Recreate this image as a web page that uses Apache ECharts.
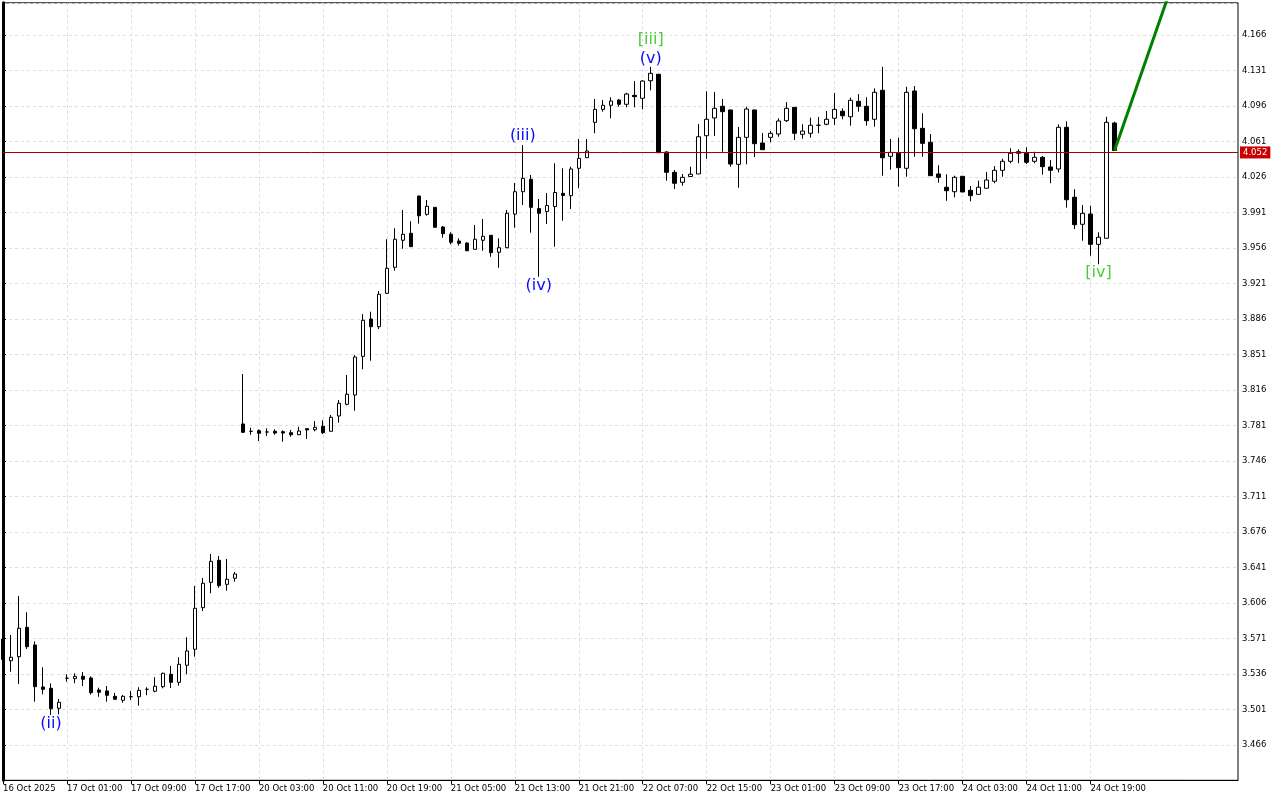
<!DOCTYPE html>
<html>
<head>
<meta charset="utf-8">
<style>html,body{margin:0;padding:0;background:#fff}#c{width:1280px;height:800px}</style>
<script src="https://cdn.jsdelivr.net/npm/echarts@6/dist/echarts.min.js"></script>
</head>
<body>
<div id="c"></div>
<script>
// Hourly candles, index 0 = 16 Oct 2025 17:00
const tickLabels = ['16 Oct 2025','17 Oct 01:00','17 Oct 09:00','17 Oct 17:00','20 Oct 03:00','20 Oct 11:00','20 Oct 19:00','21 Oct 05:00','21 Oct 13:00','21 Oct 21:00','22 Oct 07:00','22 Oct 15:00','23 Oct 01:00','23 Oct 09:00','23 Oct 17:00','24 Oct 03:00','24 Oct 11:00','24 Oct 19:00'];
const opens = [3.5703,3.5489,3.5529,3.5818,3.5644,3.5230,3.5217,3.5020,3.5316,3.5312,3.5335,3.5319,3.5200,3.5191,3.5138,3.5099,3.5134,3.5134,3.5207,3.5188,3.5233,3.5355,3.5276,3.5444,3.5602,3.6012,3.6262,3.6479,3.6242,3.6302,
3.7823,3.7751,3.7757,3.7744,3.7751,3.7747,3.7737,3.7717,3.7777,3.7767,3.7800,3.7751,3.7902,3.8017,3.8109,3.8490,3.8858,3.8782,3.9111,3.9368,3.9634,3.9703,4.0071,3.9890,3.9959,3.9765,3.9693,3.9627,3.9607,3.9545,
3.9634,3.9683,3.9516,3.9561,3.9893,4.0113,4.0235,3.9947,3.9918,3.9967,4.0097,4.0074,4.0344,4.0448,4.0797,4.0925,4.0965,4.1017,4.0975,4.1063,4.1034,4.1207,4.1271,4.0504,4.0304,4.0206,4.0263,4.0288,4.0665,4.0840,
4.0955,4.0919,4.0383,4.0649,4.0919,4.0593,4.0649,4.0682,4.0813,4.0945,4.0679,4.0689,4.0768,4.0778,4.0837,4.0906,4.0852,4.1004,4.0955,4.0827,4.1113,4.0462,4.0492,4.0344,4.1106,4.0738,4.0600,4.0288,4.0157,4.0113,
4.0265,4.0127,4.0087,4.0147,4.0216,4.0324,4.0413,4.0507,4.0492,4.0413,4.0452,4.0357,4.0337,4.0748,4.0058,3.9792,3.9893,3.9594,3.9654,4.0790];
const highs = [3.5812,3.5743,3.6127,3.5966,3.5679,3.5424,3.5266,3.5112,3.5355,3.5365,3.5378,3.5335,3.5223,3.5240,3.5171,3.5151,3.5191,3.5227,3.5227,3.5326,3.5371,3.5437,3.5523,3.5720,3.6226,3.6305,3.6541,3.6521,3.6492,3.6364,
3.8316,3.7786,3.7770,3.7780,3.7771,3.7761,3.7764,3.7796,3.7780,3.7852,3.7859,3.7911,3.8059,3.8306,3.8503,3.8907,3.8930,3.9134,3.9644,3.9752,3.9933,3.9821,4.0071,4.0031,3.9959,3.9775,3.9713,3.9654,3.9614,3.9785,
3.9844,3.9683,3.9654,3.9933,4.0199,4.0573,4.0278,4.0041,4.0100,4.0393,4.0344,4.0360,4.0633,4.0633,4.1027,4.1017,4.1044,4.1027,4.1089,4.1204,4.1214,4.1345,4.1274,4.0514,4.0327,4.0288,4.0360,4.0781,4.1103,4.1096,
4.1027,4.0919,4.0751,4.0951,4.0919,4.0692,4.0711,4.0837,4.0997,4.0945,4.0778,4.0843,4.0850,4.0909,4.1086,4.0935,4.1040,4.1076,4.1044,4.1132,4.1345,4.0633,4.0645,4.1148,4.1155,4.0886,4.0682,4.0373,4.0285,4.0271,
4.0265,4.0169,4.0222,4.0307,4.0366,4.0438,4.0541,4.0531,4.0551,4.0507,4.0465,4.0426,4.0778,4.0807,4.0137,3.9982,3.9975,3.9713,4.0852,4.0803];
const lows = [3.5259,3.5381,3.5259,3.5605,3.5085,3.5158,3.4954,3.4961,3.5282,3.5266,3.5240,3.5154,3.5134,3.5085,3.5102,3.5075,3.5102,3.5046,3.5148,3.5178,3.5217,3.5220,3.5243,3.5355,3.5529,3.5979,3.6154,3.6209,3.6179,3.6268,
3.7734,3.7717,3.7655,3.7705,3.7717,3.7648,3.7698,3.7714,3.7675,3.7751,3.7724,3.7748,3.7836,3.8007,3.7954,3.8362,3.8447,3.8759,3.9105,3.9334,3.9551,3.9571,3.9798,3.9876,3.9762,3.9660,3.9594,3.9581,3.9531,3.9545,
3.9531,3.9472,3.9364,3.9555,3.9758,3.9982,3.9709,3.9275,3.9795,3.9571,3.9827,3.9943,4.0147,4.0448,4.0689,4.0902,4.0837,4.0951,4.0945,4.0945,4.0925,4.1113,4.0492,4.0222,4.0140,4.0172,4.0261,4.0288,4.0438,4.0662,
4.0507,4.0360,4.0153,4.0383,4.0455,4.0527,4.0600,4.0655,4.0800,4.0623,4.0636,4.0646,4.0689,4.0768,4.0771,4.0827,4.0764,4.0902,4.0764,4.0754,4.0271,4.0330,4.0162,4.0261,4.0458,4.0458,4.0271,4.0202,4.0024,4.0058,
4.0110,4.0018,4.0087,4.0147,4.0196,4.0261,4.0393,4.0393,4.0386,4.0393,4.0281,4.0196,4.0304,3.9955,3.9745,3.9630,3.9482,3.9397,3.9654,4.0520];
const closes = [3.5503,3.5523,3.5809,3.5627,3.5233,3.5207,3.5016,3.5079,3.5316,3.5335,3.5306,3.5174,3.5178,3.5148,3.5109,3.5138,3.5134,3.5197,3.5207,3.5237,3.5365,3.5276,3.5454,3.5585,3.6006,3.6252,3.6469,3.6229,3.6292,3.6344,
3.7741,3.7751,3.7731,3.7744,3.7734,3.7734,3.7717,3.7754,3.7764,3.7790,3.7737,3.7889,3.8027,3.8116,3.8483,3.8845,3.8782,3.9102,3.9358,3.9644,3.9693,3.9571,3.9876,3.9969,3.9762,3.9699,3.9614,3.9604,3.9531,3.9644,
3.9673,3.9512,3.9561,3.9900,4.0113,4.0245,3.9959,3.9900,3.9977,4.0105,4.0076,4.0337,4.0442,4.0514,4.0925,4.0965,4.1007,4.0975,4.1076,4.1050,4.1204,4.1280,4.0498,4.0304,4.0196,4.0255,4.0285,4.0655,4.0827,4.0935,
4.0902,4.0386,4.0649,4.0928,4.0586,4.0527,4.0689,4.0810,4.0935,4.0689,4.0711,4.0768,4.0768,4.0827,4.0925,4.0862,4.1014,4.0955,4.0813,4.1093,4.0448,4.0501,4.0350,4.1093,4.0734,4.0590,4.0271,4.0255,4.0123,4.0255,
4.0110,4.0074,4.0157,4.0228,4.0324,4.0413,4.0492,4.0492,4.0403,4.0452,4.0360,4.0324,4.0748,4.0034,3.9788,3.9900,3.9594,3.9664,4.0797,4.0520];
const lastPrice = 4.052;
const projX = [139, 147];
const projY = [4.052, 4.2334];
const waveText = ['(ii)', '(iii)', '(iv)', '(v)', '[iii]', '[iv]'];
const waveIdx = [6, 65, 67, 81, 81, 137];
const waveVal = [3.4865, 4.0662, 3.9185, 4.1419, 4.1614, 3.9309];
const waveKind = ['minor', 'minor', 'minor', 'minor', 'major', 'major'];
const yTickMin = 3.431, yTickStep = 0.035, yTop = 4.1975;

const candleData = opens.map((o, i) => [i, o, closes[i], lows[i], highs[i]]);
const waveColors = { minor: '#0a0aff', major: '#4ccc3c' };
const waveData = waveText.map((t, k) => ({
  value: [waveIdx[k], waveVal[k]],
  label: { formatter: t, color: waveColors[waveKind[k]] }
}));

const chart = echarts.init(document.getElementById('c'), null, { renderer: 'canvas' });
const labelFont = 'DejaVu Sans';
const gridColor = '#dedede';
const xTickVals = tickLabels.map((_, k) => k * 8);

chart.setOption({
  backgroundColor: '#ffffff',
  animation: false,
  grid: { left: 2.5, right: 42, top: 2.85, bottom: 19.7, show: true, borderColor: '#000', borderWidth: 1, containLabel: false },
  xAxis: {
    type: 'value', min: 0, max: 154.4375, interval: 4,
    axisLine: { show: true, onZero: false, lineStyle: { color: '#000', width: 1 } },
    axisTick: { show: true, length: 4, customValues: xTickVals, lineStyle: { color: '#000' } },
    axisLabel: {
      show: true, customValues: xTickVals, align: 'left', margin: 4,
      fontFamily: labelFont, fontSize: 8.5, color: '#000', hideOverlap: false,
      formatter: v => { const k = Math.round(v / 8); return (Math.abs(v - k * 8) < 1e-6 && k < tickLabels.length) ? tickLabels[k] : ''; }
    },
    splitLine: { show: true, lineStyle: { color: gridColor, type: [3, 3], width: 1 } }
  },
  yAxis: {
    type: 'value', position: 'right', min: yTickMin, max: yTop, interval: yTickStep, scale: true,
    axisLine: { show: true, lineStyle: { color: '#000', width: 3 } },
    axisTick: { show: true, length: 3, lineStyle: { color: '#000' } },
    axisLabel: { show: true, margin: 4, fontFamily: labelFont, fontSize: 8.5, color: '#000', showMinLabel: false, showMaxLabel: false, formatter: v => v.toFixed(3) },
    splitLine: { show: true, lineStyle: { color: gridColor, type: [3, 3], width: 1 } }
  },
  series: [
    {
      type: 'candlestick', data: candleData, barWidth: 4, clip: false,
      itemStyle: { color: '#ffffff', color0: '#000000', borderColor: '#000000', borderColor0: '#000000', borderWidth: 1 },
      markLine: {
        silent: true, symbol: ['none', 'none'], animation: false,
        lineStyle: { color: '#a80000', width: 1, type: 'solid' },
        label: { show: true, position: 'end', distance: 2, formatter: lastPrice.toFixed(3), color: '#fff', backgroundColor: '#c80000', padding: [2, 3, 1, 3], fontFamily: labelFont, fontSize: 8.5 },
        data: [{ yAxis: lastPrice }]
      },
      z: 3
    },
    {
      type: 'line', data: projX.map((x, k) => [x, projY[k]]), symbol: 'none', clip: true,
      lineStyle: { color: '#008000', width: 3 }, z: 4
    },
    {
      type: 'scatter', data: waveData, symbolSize: 0, silent: true, z: 5,
      itemStyle: { opacity: 1 },
      label: { show: true, position: 'inside', fontFamily: labelFont, fontSize: 16, opacity: 1 }
    }
  ]
});
</script>
</body>
</html>
